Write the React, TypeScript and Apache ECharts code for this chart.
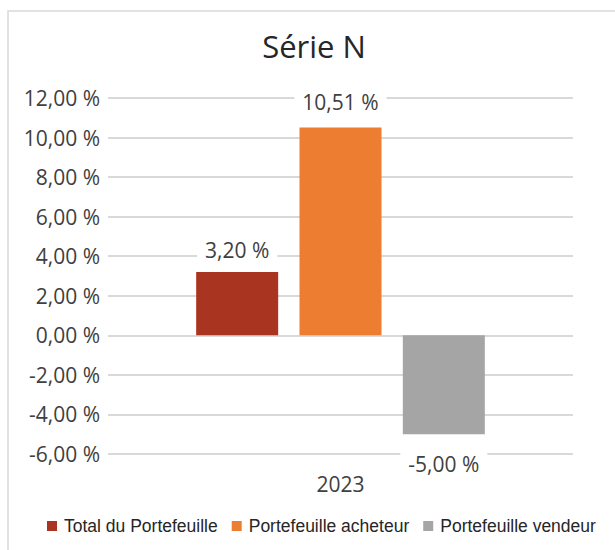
import React, { useEffect, useRef } from "react";
import * as echarts from "echarts";

const categories = ["2023"];
const seriesNames = ["Total du Portefeuille", "Portefeuille acheteur", "Portefeuille vendeur"];
const seriesValues = [3.2, 10.51, -5.0];
const seriesColors = ["#A9341F", "#ED7D31", "#A5A5A5"];
const labelDistances = [10, 13, 17];
const yTicks = { min: -6, max: 12, interval: 2 };
const titleText = "Série N";

const fmt = (v: number) => v.toFixed(2).replace(".", ",") + " %";

export default function App() {
  const ref = useRef<HTMLDivElement>(null);
  useEffect(() => {
    if (!ref.current) return;
    const chart = echarts.init(ref.current, undefined, { renderer: "svg" });
    const mainFont = "'Open Sans', sans-serif";
    chart.setOption({
      animation: false,
      backgroundColor: "#ffffff",
      graphic: [
        {
          type: "rect",
          shape: { x: 8, y: 11, width: 700, height: 700 },
          style: { fill: "none", stroke: "#d9d9d9", lineWidth: 1.5 },
          z: -1,
        },
        {
          type: "text",
          x: 314,
          y: 46,
          style: {
            text: titleText,
            fontFamily: mainFont,
            fontSize: 31,
            fill: "#262626",
            textAlign: "center",
            textVerticalAlign: "middle",
          },
        },
      ],
      legend: {
        left: 42,
        top: 512,
        itemWidth: 10,
        itemHeight: 10,
        itemGap: 14,
        icon: "rect",
        textStyle: {
          fontFamily: "'Liberation Sans', Arial, sans-serif",
          fontSize: 17.5,
          color: "#262626",
          padding: [0, 0, 0, 2],
        },
        data: seriesNames,
      },
      grid: { left: 108, right: 42, top: 98, bottom: 96 },
      xAxis: {
        type: "category",
        data: categories,
        axisLine: { show: false },
        axisTick: { show: false },
        axisLabel: { margin: 19, fontFamily: mainFont, fontSize: 21, color: "#404040" },
      },
      yAxis: {
        type: "value",
        min: yTicks.min,
        max: yTicks.max,
        interval: yTicks.interval,
        axisLine: { show: false },
        axisTick: { show: false },
        axisLabel: {
          margin: 8,
          fontFamily: mainFont,
          fontSize: 21,
          color: "#404040",
          formatter: (v: number) => fmt(v),
        },
        splitLine: { lineStyle: { color: "#d9d9d9", width: 2 } },
      },
      series: seriesNames.map((name, i) => ({
        name,
        type: "bar",
        barWidth: 82,
        barGap: "26%",
        itemStyle: { color: seriesColors[i] },
        data: [seriesValues[i]],
        label: {
          show: true,
          position: seriesValues[i] >= 0 ? "top" : "bottom",
          distance: labelDistances[i],
          fontFamily: mainFont,
          fontSize: 21,
          color: "#404040",
          backgroundColor: "#ffffff",
          padding: [2, 8],
          formatter: (p: any) => fmt(p.value),
        },
      })),
    });
    return () => chart.dispose();
  }, []);
  return (
    <div
      ref={ref}
      style={{ position: "fixed", left: 0, top: 0, width: 615, height: 550 }}
    />
  );
}
